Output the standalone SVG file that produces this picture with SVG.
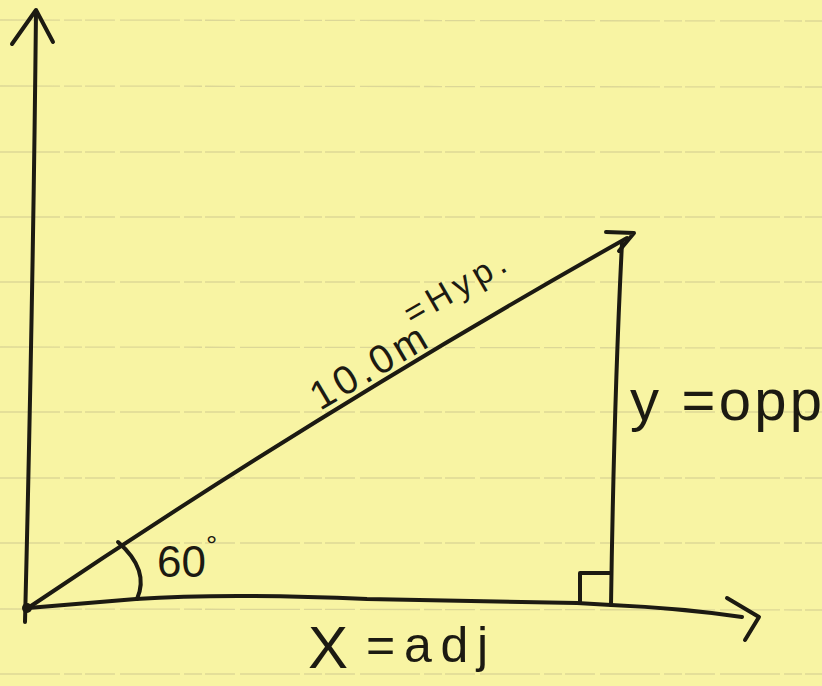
<svg xmlns="http://www.w3.org/2000/svg" width="822" height="686" viewBox="0 0 822 686">
<style>
.rule{stroke:#d3ce93;stroke-width:1.3;stroke-dasharray:60 4 18 3 30 5;fill:none;opacity:0.75}
.ink{stroke:#1c1a12;stroke-width:4;fill:none;stroke-linecap:round;stroke-linejoin:round}
.hand{font-family:"Liberation Sans","DejaVu Sans",sans-serif;fill:#1c1a12}
</style>
<rect width="822" height="686" fill="#f8f4a3"/>
<g id="paper-lines">
<line class="rule" x1="0" y1="20" x2="822" y2="21"/>
<line class="rule" x1="0" y1="86" x2="822" y2="87"/>
<line class="rule" x1="0" y1="152" x2="822" y2="152"/>
<line class="rule" x1="0" y1="217" x2="822" y2="217"/>
<line class="rule" x1="0" y1="282" x2="822" y2="282"/>
<line class="rule" x1="0" y1="347" x2="822" y2="348"/>
<line class="rule" x1="0" y1="412" x2="822" y2="412"/>
<line class="rule" x1="0" y1="478" x2="822" y2="478"/>
<line class="rule" x1="0" y1="543" x2="822" y2="543"/>
<line class="rule" x1="0" y1="609" x2="822" y2="610"/>
<line class="rule" x1="0" y1="674" x2="822" y2="674"/>
</g>
<g id="y-axis">
<path class="ink" d="M36,12 Q33,300 25,622"/>
<path class="ink" d="M12,44 L36,10 L53,42"/>
</g>
<g id="x-axis">
<path class="ink" d="M28,608 L136,599 Q225,593 367,599 L577,603 L611,605 Q680,608 742,617"/>
<path class="ink" d="M727,598 L759,617 L745,640"/>
</g>
<g id="hypotenuse">
<path class="ink" d="M28,608 Q318,412 627,238"/>
<path class="ink" d="M606,232 L634,233 L619,251"/>
</g>
<g id="opposite">
<path class="ink" d="M622,243 Q614,400 611,605"/>
<path class="ink" d="M580,603 V573 H611"/>
</g>
<g id="angle">
<path class="ink" d="M118,542 Q150,570 137,599"/>
</g>
<circle cx="27" cy="608" r="5" fill="#1c1a12"/>
<g id="labels">
<text class="hand" x="0" y="0" font-size="40" textLength="128" lengthAdjust="spacing" transform="translate(320,411) rotate(-30.5)">10.0m</text>
<text class="hand" x="0" y="0" font-size="34" textLength="112" lengthAdjust="spacing" transform="translate(412,326) rotate(-30)">=Hyp.</text>
<text class="hand" x="157" y="577" font-size="44">60<tspan font-size="28" dy="-22">°</tspan></text>
<text class="hand" x="630" y="420" font-size="58" textLength="192" lengthAdjust="spacing">y =opp</text>
<text class="hand" x="308" y="668" font-size="60">X</text>
<text class="hand" x="366" y="662" font-size="50" textLength="122" lengthAdjust="spacing">=adj</text>
</g>
</svg>
